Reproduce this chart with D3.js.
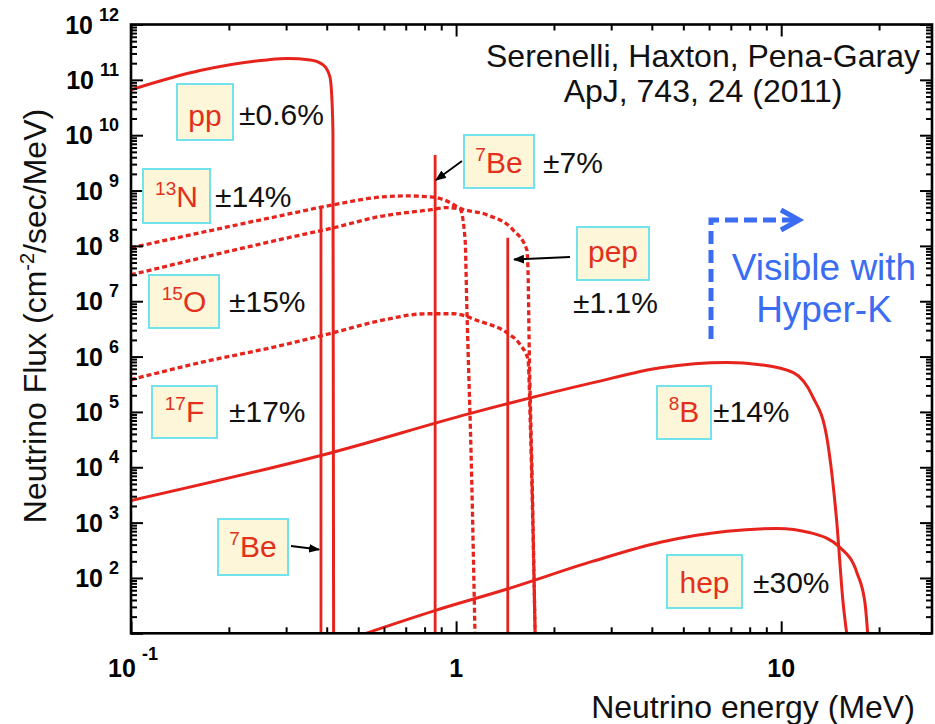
<!DOCTYPE html>
<html><head><meta charset="utf-8">
<script src="https://cdn.jsdelivr.net/npm/d3@7"></script>
<style>
body{margin:0;background:#fff}
svg{display:block}
text{font-family:"Liberation Sans",Arial,Helvetica,sans-serif}
</style>
</head><body>
<svg id="chart" width="935" height="724"></svg>
<script>
// ---------------- DATA (energy in MeV, flux in cm^-2 s^-1 MeV^-1) ----------------
const ppEnergy  = [0.1, 0.163, 0.262, 0.302, 0.356, 0.390, 0.409, 0.415, 0.418, 0.420];
const ppFlux    = [6.6e10, 1.47e11, 2.29e11, 2.42e11, 2.29e11, 1.86e11, 1.14e11, 4.4e10, 1.1e10, 10];

const b8Energy  = [0.1, 0.419, 1.10, 2.64, 4.25, 6.81, 8.61, 10.9, 12.5, 13.8, 14.8, 15.5, 15.9];
const b8Flux    = [2.5e3, 1.87e4, 9.3e4, 3.38e5, 6.3e5, 7.85e5, 7.14e5, 5.12e5, 1.89e5, 3.6e4, 1.14e3, 36, 10];

const hepEnergy = [0.528, 0.851, 1.445, 2.64, 4.25, 6.81, 9.70, 12.3, 15.2, 17.1, 18.1, 18.45];
const hepFlux   = [10, 25.2, 63.8, 201, 443, 700, 783, 655, 351, 124, 35.6, 10];

const o15Energy = [0.1, 0.287, 0.419, 0.583, 0.705, 0.849, 0.935, 1.028, 1.243, 1.496, 1.650, 1.665, 1.677, 1.714, 1.750];
const o15Flux   = [9.25e7, 3.49e8, 5.52e8, 7.6e8, 8.0e8, 7.6e8, 6.5e8, 4.8e8, 3.64e8, 1.95e8, 8.5e7, 3.27e7, 2.0e6, 6.0e3, 10];

const n13Energy = [0.1, 0.287, 0.419, 0.583, 0.832, 0.935, 1.028, 1.066, 1.079, 1.117, 1.143];
const n13Flux   = [3.0e7, 1.3e8, 2.12e8, 3.4e8, 4.49e8, 4.93e8, 4.61e8, 1.29e8, 8.05e6, 6.0e3, 10];

const f17Energy = [0.1, 0.163, 0.287, 0.419, 0.583, 0.813, 0.979, 1.186, 1.432, 1.574, 1.665, 1.690, 1.750];
const f17Flux   = [3.83e5, 7.76e5, 1.57e6, 2.7e6, 4.45e6, 5.94e6, 5.94e6, 4.3e6, 2.7e6, 1.64e6, 8.8e5, 7.3e4, 10];

// mono-energetic lines: 7Be (0.384), 7Be (0.862), pep (1.442)
const lineNames  = ["7Be-384", "7Be-862", "pep"];
const lineEnergy = [0.384, 0.862, 1.442];
const lineFlux   = [5.1e8, 4.4e9, 1.4e8];

// axis tick labels
const yTickExponents = [2, 3, 4, 5, 6, 7, 8, 9, 10, 11, 12];
const xTickValues = [0.1, 1, 10];
const xTickBase   = ["10", "1", "10"];
const xTickExp    = ["-1", "", ""];

// ---------------- CHART ----------------
const M = {left: 131, right: 932, top: 24.5, bottom: 633.3};
const RED = "#e6231c", LABEL_RED = "#e2301c", BOX_FILL = "#fdf6d8", BOX_STROKE = "#72e2ec", BLUE = "#3a6df2";

const svg = d3.select("#chart");
const x = d3.scaleLog().domain([0.1, 29.1]).range([M.left, M.right]);
const y = d3.scaleLog().domain([10, 1e12]).range([M.bottom, M.top]);

const series = [
  {name: "pp",  energy: ppEnergy,  flux: ppFlux,  dashed: false},
  {name: "8B",  energy: b8Energy,  flux: b8Flux,  dashed: false},
  {name: "hep", energy: hepEnergy, flux: hepFlux, dashed: false},
  {name: "15O", energy: o15Energy, flux: o15Flux, dashed: true},
  {name: "13N", energy: n13Energy, flux: n13Flux, dashed: true},
  {name: "17F", energy: f17Energy, flux: f17Flux, dashed: true}
];

const defs = svg.append("defs");
defs.append("clipPath").attr("id", "plotclip")
  .append("rect").attr("x", M.left).attr("y", M.top)
  .attr("width", M.right - M.left).attr("height", M.bottom - M.top);

const plot = svg.append("g").attr("clip-path", "url(#plotclip)");

const line = d3.line().x(d => x(d[0])).y(d => y(d[1])).curve(d3.curveMonotoneX);

series.forEach(s => {
  const pts = s.energy.map((e, i) => [e, s.flux[i]]);
  plot.append("path").attr("d", line(pts))
    .attr("fill", "none").attr("stroke", RED)
    .attr("stroke-width", s.dashed ? 3.3 : 3)
    .attr("stroke-dasharray", s.dashed ? "5,3" : null);
});

lineEnergy.forEach((e, i) => {
  plot.append("line")
    .attr("x1", x(e)).attr("x2", x(e))
    .attr("y1", y(lineFlux[i])).attr("y2", y(10))
    .attr("stroke", RED).attr("stroke-width", 2.8);
});

// ---------------- AXES ----------------
const majorY = yTickExponents.map(e => Math.pow(10, e)).concat([10]);
const minorY = [];
for (let e = 1; e < 12; e++) for (let m = 2; m <= 9; m++) minorY.push(m * Math.pow(10, e));
const majorX = xTickValues;
const minorX = [];
for (let e = -1; e <= 1; e++) for (let m = 2; m <= 9; m++) { const v = m * Math.pow(10, e); if (v < 29.1) minorX.push(v); }

function tickAxis(axisFn, scale, vals, size, transform) {
  const g = svg.append("g").attr("transform", transform)
    .call(axisFn(scale).tickValues(vals).tickSize(size).tickFormat(""));
  g.select(".domain").remove();
  g.selectAll(".tick line").attr("stroke", "#000").attr("stroke-width", 2);
  return g;
}
tickAxis(d3.axisLeft, y, majorY, -12, `translate(${M.left},0)`);
tickAxis(d3.axisLeft, y, minorY, -6, `translate(${M.left},0)`);
tickAxis(d3.axisRight, y, majorY, -12, `translate(${M.right},0)`);
tickAxis(d3.axisRight, y, minorY, -6, `translate(${M.right},0)`);
tickAxis(d3.axisBottom, x, majorX, -12, `translate(0,${M.bottom})`);
tickAxis(d3.axisBottom, x, minorX, -6, `translate(0,${M.bottom})`);
tickAxis(d3.axisTop, x, majorX, -12, `translate(0,${M.top})`);
tickAxis(d3.axisTop, x, minorX, -6, `translate(0,${M.top})`);

svg.append("rect").attr("x", M.left).attr("y", M.top)
  .attr("width", M.right - M.left).attr("height", M.bottom - M.top)
  .attr("fill", "none").attr("stroke", "#000").attr("stroke-width", 2.6);

// y tick labels
yTickExponents.forEach(e => {
  const t = svg.append("text").attr("x", 119).attr("y", y(Math.pow(10, e)) + 9)
    .attr("text-anchor", "end").attr("font-weight", "bold").attr("fill", "#000");
  t.append("tspan").attr("font-size", 25).text("10");
  t.append("tspan").attr("font-size", 18).attr("dx", 6).attr("dy", -13).text(String(e));
});
// x tick labels
xTickValues.forEach((v, i) => {
  const t = svg.append("text").attr("x", x(v) + (xTickExp[i] ? 2 : 0)).attr("y", 677)
    .attr("text-anchor", "middle").attr("font-weight", "bold").attr("fill", "#000");
  t.append("tspan").attr("font-size", 25).text(xTickBase[i]);
  if (xTickExp[i]) t.append("tspan").attr("font-size", 18).attr("dx", 6).attr("dy", -17).text(xTickExp[i]);
});

// axis titles
svg.append("text").attr("x", 753).attr("y", 718).attr("text-anchor", "middle")
  .attr("font-size", 32).attr("fill", "#111").text("Neutrino energy (MeV)");
const yt = svg.append("text").attr("transform", "translate(46,316) rotate(-90)")
  .attr("text-anchor", "middle").attr("font-size", 32).attr("fill", "#111");
yt.append("tspan").text("Neutrino Flux (cm");
yt.append("tspan").attr("font-size", 20).attr("dy", -12).text("-2");
yt.append("tspan").attr("dy", 12).text("/sec/MeV)");

// citation
svg.append("text").attr("x", 703).attr("y", 67).attr("text-anchor", "middle")
  .attr("font-size", 32).attr("fill", "#111").text("Serenelli, Haxton, Pena-Garay");
svg.append("text").attr("x", 703).attr("y", 102).attr("text-anchor", "middle")
  .attr("font-size", 32).attr("fill", "#111").text("ApJ, 743, 24 (2011)");

// ---------------- ANNOTATION BOXES ----------------
const boxes = [
  {sup: "",   main: "pp",  bx: 177, by: 84,  bw: 56, bh: 56, ty: 126, pm: "±0.6%", px: 239, py: 125},
  {sup: "13", main: "N",   bx: 143, by: 169, bw: 67, bh: 54, ty: 207, pm: "±14%",  px: 215, py: 207},
  {sup: "15", main: "O",   bx: 149, by: 275, bw: 70, bh: 53, ty: 312, pm: "±15%",  px: 229, py: 312},
  {sup: "17", main: "F",   bx: 152, by: 386, bw: 65, bh: 52, ty: 422, pm: "±17%",  px: 229, py: 422},
  {sup: "7",  main: "Be",  bx: 218, by: 519, bw: 70, bh: 56, ty: 557, pm: "",      px: 0,   py: 0},
  {sup: "7",  main: "Be",  bx: 464, by: 135, bw: 70, bh: 53, ty: 173, pm: "±7%",   px: 543, py: 173},
  {sup: "",   main: "pep", bx: 577, by: 227, bw: 72, bh: 53, ty: 262, pm: "±1.1%", px: 573, py: 313},
  {sup: "8",  main: "B",   bx: 657, by: 386, bw: 54, bh: 53, ty: 422, pm: "±14%",  px: 713, py: 422},
  {sup: "",   main: "hep", bx: 667, by: 555, bw: 75, bh: 53, ty: 593, pm: "±30%",  px: 753, py: 593}
];
boxes.forEach(b => {
  svg.append("rect").attr("x", b.bx).attr("y", b.by).attr("width", b.bw).attr("height", b.bh)
    .attr("fill", BOX_FILL).attr("stroke", BOX_STROKE).attr("stroke-width", 2);
  const t = svg.append("text").attr("x", b.bx + b.bw / 2).attr("y", b.ty)
    .attr("text-anchor", "middle").attr("fill", LABEL_RED);
  if (b.sup) {
    t.append("tspan").attr("font-size", 19).attr("dy", -12).text(b.sup);
    t.append("tspan").attr("font-size", 30).attr("dy", 12).text(b.main);
  } else {
    t.append("tspan").attr("font-size", 30).text(b.main);
  }
  if (b.pm) svg.append("text").attr("x", b.px).attr("y", b.py).attr("font-size", 30)
    .attr("fill", "#111").text(b.pm);
});

// black arrows
defs.append("marker").attr("id", "ah").attr("viewBox", "0 0 10 10").attr("refX", 9).attr("refY", 5)
  .attr("markerWidth", 11).attr("markerHeight", 11).attr("markerUnits", "userSpaceOnUse")
  .attr("orient", "auto").append("path").attr("d", "M0,1 L10,5 L0,9 Z").attr("fill", "#000");
const arrows = [
  [291, 546, 319, 549.5],
  [462, 161, 436, 180],
  [570, 257, 514, 259.5]
];
arrows.forEach(a => {
  svg.append("line").attr("x1", a[0]).attr("y1", a[1]).attr("x2", a[2]).attr("y2", a[3])
    .attr("stroke", "#000").attr("stroke-width", 1.8).attr("marker-end", "url(#ah)");
});

// blue "visible" annotation
svg.append("path").attr("d", "M711,339 V220 H794")
  .attr("fill", "none").attr("stroke", BLUE).attr("stroke-width", 5)
  .attr("stroke-dasharray", "13,6");
svg.append("path").attr("d", "M781,210 L799,220 L781,230")
  .attr("fill", "none").attr("stroke", BLUE).attr("stroke-width", 5).attr("stroke-linejoin", "miter");
svg.append("text").attr("x", 824).attr("y", 280).attr("text-anchor", "middle")
  .attr("font-size", 37).attr("fill", BLUE).text("Visible with");
svg.append("text").attr("x", 824).attr("y", 322).attr("text-anchor", "middle")
  .attr("font-size", 37).attr("fill", BLUE).text("Hyper-K");
</script>
</body></html>
